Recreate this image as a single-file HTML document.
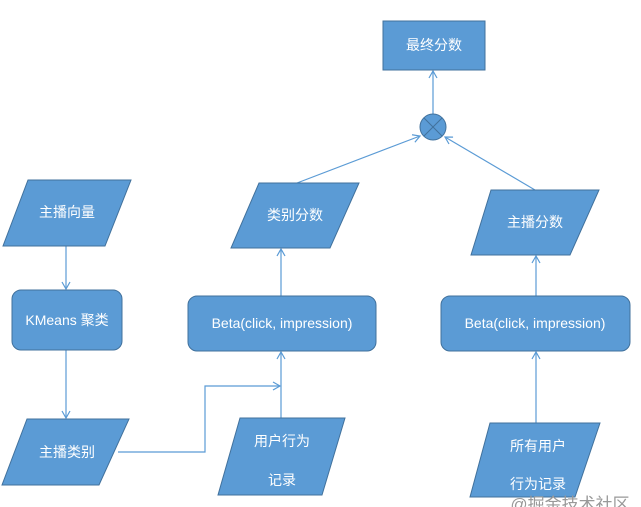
<!DOCTYPE html>
<html><head><meta charset="utf-8"><style>
body{margin:0;background:#fff;}
svg{display:block;}
text{font-family:"Liberation Sans","Noto Sans CJK SC",sans-serif;font-size:13px;fill:#fff;text-anchor:middle;}
</style></head><body>
<svg width="641" height="507" viewBox="0 0 641 507" xmlns="http://www.w3.org/2000/svg">
<defs>
<marker id="a" markerWidth="10" markerHeight="10" refX="8" refY="5" orient="auto" markerUnits="userSpaceOnUse">
<path d="M1,1 L8,5 L1,9" fill="none" stroke="#5b9bd5" stroke-width="1.2"/>
</marker>
</defs>
<g stroke="#5b9bd5" stroke-width="1.2" fill="none">
<line x1="66" y1="246" x2="66" y2="289" marker-end="url(#a)"/>
<line x1="66" y1="350" x2="66" y2="418" marker-end="url(#a)"/>
<polyline points="118,452 205,452 205,386 280,386" marker-end="url(#a)"/>
<line x1="281" y1="418" x2="281" y2="352" marker-end="url(#a)"/>
<line x1="281" y1="296" x2="281" y2="249" marker-end="url(#a)"/>
<line x1="536" y1="423" x2="536" y2="352" marker-end="url(#a)"/>
<line x1="536" y1="296" x2="536" y2="256" marker-end="url(#a)"/>
<line x1="297" y1="183" x2="420" y2="136" marker-end="url(#a)"/>
<line x1="535" y1="190" x2="445" y2="137" marker-end="url(#a)"/>
<line x1="433" y1="114" x2="433" y2="71" marker-end="url(#a)"/>
</g>
<g fill="#5b9bd5" stroke="#41719c" stroke-width="1">
<rect x="383" y="21" width="102" height="49"/>
<circle cx="433" cy="127" r="13"/>
<polygon points="259,183 359,183 330,248 231,248"/>
<polygon points="491,190 599,190 570,255 471,255"/>
<polygon points="28,180 131,180 105,246 3,246"/>
<rect x="12" y="290" width="110" height="60" rx="9"/>
<rect x="188" y="296" width="188" height="55" rx="9"/>
<rect x="441" y="296" width="189" height="55" rx="9"/>
<polygon points="27,419 129,419 99,485 2,485"/>
<polygon points="240,418 345,418 322,495 218,495"/>
<polygon points="490,423 600,423 575,497 470,497"/>
</g>
<g stroke="#41719c" stroke-width="1">
<line x1="424" y1="118" x2="442" y2="136"/>
<line x1="442" y1="118" x2="424" y2="136"/>
</g>
<text x="434" y="50" style="font-size:14px">最终分数</text>
<text x="295" y="220" style="font-size:14px">类别分数</text>
<text x="535" y="227" style="font-size:14px">主播分数</text>
<text x="67" y="217" style="font-size:14px">主播向量</text>
<text x="67" y="325" style="font-size:14px">KMeans 聚类</text>
<text x="282" y="328" style="font-size:14px">Beta(click, impression)</text>
<text x="535" y="328" style="font-size:14px">Beta(click, impression)</text>
<text x="67" y="457" style="font-size:14px">主播类别</text>
<text x="282" y="446" style="font-size:14px">用户行为</text>
<text x="282" y="485" style="font-size:14px">记录</text>
<text x="538" y="451" style="font-size:14px">所有用户</text>
<text x="538" y="489" style="font-size:14px">行为记录</text>
<text x="570" y="510" style="fill:#999;font-size:17px">@掘金技术社区</text>
</svg>
</body></html>
